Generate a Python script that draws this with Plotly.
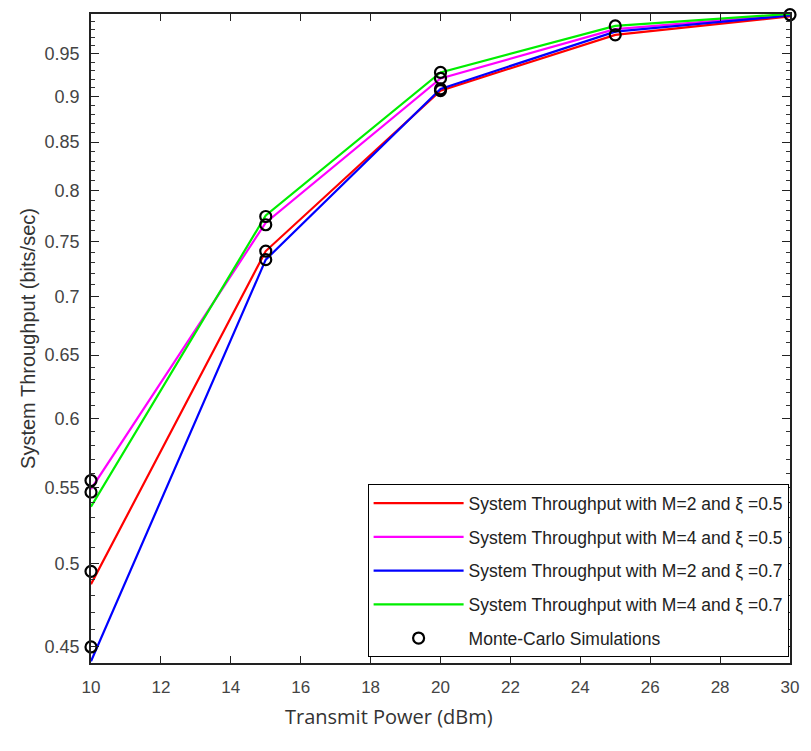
import math
import plotly.graph_objects as go

# ---- data ----
power = [10, 15, 20, 25, 30]
thr_m2_x05 = [0.487, 0.741, 0.907, 0.973, 0.996]
thr_m4_x05 = [0.549, 0.768, 0.921, 0.980, 0.998]
thr_m2_x07 = [0.442, 0.733, 0.909, 0.977, 0.997]
thr_m4_x07 = [0.537, 0.775, 0.928, 0.984, 0.999]

mc_power = [10, 10, 10, 10, 15, 15, 15, 15, 20, 20, 20, 20, 25, 25, 30]
mc_thr = [0.495, 0.555, 0.450, 0.547, 0.741, 0.766, 0.733, 0.774,
          0.907, 0.921, 0.909, 0.928, 0.973, 0.984, 0.998]

x_ticks = [10, 12, 14, 16, 18, 20, 22, 24, 26, 28, 30]
y_ticks = [0.45, 0.5, 0.55, 0.6, 0.65, 0.7, 0.75, 0.8, 0.85, 0.9, 0.95]
y_tick_text = ["0.45", "0.5", "0.55", "0.6", "0.65", "0.7", "0.75", "0.8", "0.85", "0.9", "0.95"]
y_minor = [round(0.45 + 0.01 * i, 2) for i in range(55)]
y_minor = [v for v in y_minor if all(abs(v - t) > 1e-6 for t in y_ticks)]

series = [
    ("System Throughput with M=2 and \u03be =0.5", thr_m2_x05, "#ff0000"),
    ("System Throughput with M=4 and \u03be =0.5", thr_m4_x05, "#ff00ff"),
    ("System Throughput with M=2 and \u03be =0.7", thr_m2_x07, "#0000ff"),
    ("System Throughput with M=4 and \u03be =0.7", thr_m4_x07, "#00ee00"),
]

y_range = [math.log10(0.441), math.log10(0.9989)]

fig = go.Figure()
# helper trace so the minor-tick overlay axis is drawn
fig.add_trace(go.Scatter(x=[None], y=[None], yaxis="y2", showlegend=False,
                         hoverinfo="skip", mode="markers"))
for i, (name, vals, col) in enumerate(series):
    fig.add_trace(go.Scatter(
        x=power, y=vals, mode="lines", name=name,
        line=dict(color=col, width=2.2), legendgroup=f"g{i}",
        cliponaxis=False,
    ))
fig.add_trace(go.Scatter(
    x=mc_power, y=mc_thr, mode="markers", name="Monte-Carlo Simulations",
    marker=dict(symbol="circle-open", size=11, color="black", line=dict(width=2.2, color="black")),
    legendgroup="g5", cliponaxis=False,
))

font_ax = "Liberation Sans, Arial, sans-serif"

fig.update_layout(
    width=811, height=751,
    margin=dict(l=91, r=14, t=13, b=88),
    paper_bgcolor="white", plot_bgcolor="white",
    showlegend=True,
    legend=dict(
        x=0.998, y=0.009, xanchor="right", yanchor="bottom",
        bgcolor="white", bordercolor="black", borderwidth=1,
        font=dict(family=font_ax, size=17.5, color="#222"),
        tracegroupgap=8, traceorder="grouped", itemwidth=90,
    ),
    xaxis=dict(
        range=[10, 30], tickvals=x_ticks, ticktext=[str(t) for t in x_ticks],
        showgrid=False, zeroline=False,
        showline=True, linecolor="#222", linewidth=1.5, mirror="ticks",
        ticks="inside", ticklen=7, tickcolor="#222", tickwidth=1,
        tickfont=dict(family=font_ax, size=17, color="#444"),
        ticklabelstandoff=8,
    ),
    yaxis=dict(
        type="log", range=y_range,
        tickvals=y_ticks, ticktext=y_tick_text,
        showgrid=False, zeroline=False,
        showline=True, linecolor="#222", linewidth=1.5, mirror="ticks",
        ticks="inside", ticklen=8, tickcolor="#222", tickwidth=1.2,
        tickfont=dict(family=font_ax, size=18, color="#444"),
        ticklabelstandoff=6,
        title=dict(text="System Throughput (bits/sec)", standoff=4,
                   font=dict(family=font_ax, size=20, color="#333")),
    ),
    yaxis2=dict(
        type="log", range=y_range, overlaying="y", anchor="x", side="left",
        tickmode="array", tickvals=y_minor, showticklabels=False,
        showgrid=False, zeroline=False,
        showline=True, linecolor="#222", linewidth=1.5, mirror="ticks",
        ticks="inside", ticklen=4, tickcolor="#333", tickwidth=1,
    ),
    annotations=[dict(
        text="Transmit Power (dBm)", xref="paper", yref="paper",
        x=(392 - 91) / 706, y=(663 - 717) / 650, xanchor="center", yanchor="middle",
        showarrow=False, font=dict(family="Open Sans, sans-serif", size=20, color="#333"),
    )],
)

fig.write_html("out.html")
